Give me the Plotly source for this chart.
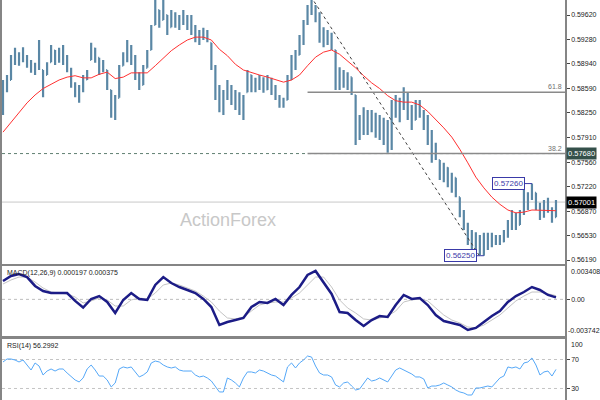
import plotly.graph_objects as go

# ---------------- data ----------------
highs = [0.5871,0.5878,0.5906,0.5916,0.5910,0.5917,0.5906,0.5899,0.5895,0.5927,
0.5885,0.5896,0.5920,0.5913,0.5916,0.5920,0.5906,0.5888,0.5868,0.5864,
0.5878,0.5885,0.5923,0.5916,0.5902,0.5899,0.5885,0.5857,0.5850,0.5892,
0.5910,0.5927,0.5920,0.5906,0.5882,0.5892,0.5913,0.5948,0.5983,0.5969,
0.5983,0.5962,0.5969,0.5966,0.5962,0.5969,0.5962,0.5962,0.5948,0.5941,
0.5944,0.5941,0.5923,0.5892,0.5864,0.5857,0.5871,0.5864,0.5857,0.5854,
0.5850,0.5885,0.5878,0.5874,0.5878,0.5875,0.5878,0.5874,0.5864,0.5850,
0.5846,0.5878,0.5906,0.5913,0.5934,0.5955,0.5976,0.5983,0.5976,0.5966,
0.5945,0.5941,0.5937,0.5913,0.5889,0.5885,0.5882,0.5875,0.5850,0.5822,
0.5833,0.5829,0.5829,0.5825,0.5822,0.5818,0.5815,0.5843,0.5850,0.5846,
0.5861,0.5853,0.5836,0.5843,0.5843,0.5829,0.5822,0.5801,0.5783,0.5759,
0.5755,0.5749,0.5741,0.5734,0.5707,0.5689,0.5671,0.5661,0.5658,0.5654,
0.5657,0.5657,0.5657,0.5654,0.5654,0.5661,0.5675,0.5689,0.5685,0.5689,
0.5717,0.5714,0.5726,0.5713,0.5699,0.5703,0.5706,0.5693,0.5703]

lows = [0.5822,0.5854,0.5871,0.5892,0.5891,0.5896,0.5888,0.5881,0.5878,0.5885,
0.5847,0.5878,0.5896,0.5892,0.5895,0.5892,0.5882,0.5860,0.5847,0.5839,
0.5854,0.5871,0.5899,0.5895,0.5878,0.5882,0.5857,0.5818,0.5815,0.5846,
0.5891,0.5896,0.5892,0.5871,0.5857,0.5864,0.5888,0.5913,0.5948,0.5944,
0.5955,0.5934,0.5945,0.5944,0.5941,0.5948,0.5941,0.5934,0.5924,0.5920,
0.5927,0.5924,0.5885,0.5843,0.5826,0.5822,0.5843,0.5836,0.5829,0.5822,
0.5815,0.5854,0.5854,0.5854,0.5857,0.5853,0.5857,0.5850,0.5843,0.5832,
0.5832,0.5843,0.5871,0.5885,0.5906,0.5920,0.5948,0.5962,0.5952,0.5923,
0.5917,0.5920,0.5913,0.5857,0.5857,0.5860,0.5857,0.5850,0.5780,0.5787,
0.5794,0.5794,0.5798,0.5790,0.5787,0.5780,0.5769,0.5773,0.5818,0.5812,
0.5829,0.5815,0.5801,0.5815,0.5818,0.5801,0.5780,0.5755,0.5759,0.5731,
0.5728,0.5721,0.5713,0.5707,0.5679,0.5661,0.5640,0.5633,0.5629,0.5626,
0.5625,0.5633,0.5637,0.5640,0.5640,0.5644,0.5650,0.5661,0.5661,0.5668,
0.5682,0.5689,0.5703,0.5689,0.5675,0.5678,0.5685,0.5671,0.5679]

closes = [0.5865,0.5860,0.5900,0.5898,0.5905,0.5900,0.5892,0.5886,0.5890,0.5888,
0.5878,0.5892,0.5912,0.5900,0.5910,0.5898,0.5886,0.5866,0.5855,0.5858,
0.5872,0.5880,0.5915,0.5902,0.5885,0.5890,0.5862,0.5825,0.5842,0.5885,
0.5905,0.5900,0.5898,0.5876,0.5864,0.5888,0.5908,0.5942,0.5970,0.5955,
0.5962,0.5945,0.5960,0.5950,0.5958,0.5952,0.5948,0.5940,0.5930,0.5935,
0.5932,0.5926,0.5890,0.5850,0.5835,0.5845,0.5860,0.5842,0.5850,0.5830,
0.5845,0.5878,0.5860,0.5868,0.5865,0.5858,0.5872,0.5856,0.5848,0.5836,
0.5842,0.5872,0.5900,0.5905,0.5928,0.5950,0.5970,0.5966,0.5958,0.5930,
0.5935,0.5928,0.5918,0.5865,0.5880,0.5868,0.5875,0.5855,0.5790,0.5812,
0.5800,0.5820,0.5805,0.5815,0.5795,0.5808,0.5780,0.5838,0.5825,0.5840,
0.5835,0.5822,0.5810,0.5835,0.5825,0.5808,0.5790,0.5765,0.5768,0.5740,
0.5748,0.5730,0.5735,0.5712,0.5685,0.5668,0.5648,0.5655,0.5638,0.5648,
0.5640,0.5652,0.5642,0.5650,0.5645,0.5658,0.5670,0.5680,0.5668,0.5685,
0.5710,0.5705,0.5715,0.5695,0.5680,0.5698,0.5690,0.5678,0.5700]

first_open = 0.5825

# moving average (sampled every 2nd bar)
ma_values = [0.5798,0.5812,0.5825,0.5839,0.5850,0.5859,0.5865,0.5871,0.5875,0.5877,
0.5874,0.5874,0.5879,0.5882,0.5873,0.5875,0.5881,0.5881,0.5881,0.5891,
0.5902,0.5912,0.5920,0.5927,0.5931,0.5931,0.5927,0.5914,0.5905,0.5893,
0.5885,0.5881,0.5878,0.5875,0.5872,0.5868,0.5871,0.5878,0.5891,0.5903,
0.5910,0.5913,0.5907,0.5898,0.5888,0.5877,0.5867,0.5859,0.5849,0.5842,
0.5840,0.5840,0.5836,0.5827,0.5816,0.5804,0.5791,0.5774,0.5755,0.5735,
0.5720,0.5707,0.5697,0.5689,0.5685,0.5686,0.5689,0.5689,0.5689,0.5688]

# MACD main and signal (sampled every 2nd bar)
macd_values = [0.00188,0.00239,0.00259,0.00228,0.00137,0.00085,0.00065,0.00065,0.00065,-0.00016,
-0.00083,0.00004,0.00034,-0.00027,-0.00139,-0.00006,0.00065,0.00004,-0.00006,0.00147,
0.00228,0.00167,0.00126,0.00096,0.00065,0.00004,-0.00078,-0.00262,-0.00231,-0.00211,
-0.00190,-0.00078,-0.00027,-0.00037,0.00004,-0.00058,0.00045,0.00126,0.00249,0.00290,
0.00167,0.00055,-0.00129,-0.00139,-0.00211,-0.00272,-0.00211,-0.00170,-0.00180,-0.00058,
0.00045,0.00004,0.00014,-0.00058,-0.00160,-0.00221,-0.00241,-0.00262,-0.00313,-0.00292,
-0.00231,-0.00170,-0.00119,-0.00027,0.00034,0.00075,0.00126,0.00096,0.00045,0.00020]

signal_values = [0.00157,0.00198,0.00228,0.00228,0.00177,0.00116,0.00075,0.00065,0.00055,0.00024,
-0.00037,-0.00016,0.00014,-0.00006,-0.00068,-0.00068,-0.00006,0.00014,0.00004,0.00065,
0.00147,0.00167,0.00147,0.00116,0.00085,0.00034,-0.00027,-0.00119,-0.00190,-0.00200,
-0.00180,-0.00119,-0.00058,-0.00037,-0.00027,-0.00027,0.00014,0.00065,0.00147,0.00228,
0.00228,0.00126,-0.00006,-0.00088,-0.00139,-0.00200,-0.00211,-0.00190,-0.00170,-0.00119,
-0.00027,-0.00006,0.00004,-0.00016,-0.00088,-0.00160,-0.00211,-0.00241,-0.00282,-0.00292,
-0.00262,-0.00211,-0.00160,-0.00088,-0.00016,0.00034,0.00075,0.00075,0.00055,0.00038]

rsi_values = [66.6,70.7,70.7,69.3,66.6,69.3,62.4,55.5,65.2,61.0,
48.6,54.1,56.9,54.1,56.9,56.9,51.4,47.2,41.7,39.0,
44.5,56.9,62.4,55.5,47.2,47.2,41.7,32.1,37.6,56.9,
59.7,58.3,59.7,52.8,45.9,48.6,52.8,65.2,67.9,66.6,
62.4,59.7,58.3,59.7,55.5,54.1,54.1,54.1,48.6,45.9,
47.2,44.5,40.3,32.1,25.2,25.2,44.5,41.7,37.6,32.1,
44.5,52.8,52.8,51.4,55.5,54.1,51.4,48.6,47.2,43.1,
39.0,59.7,65.2,58.3,65.2,69.3,74.8,73.4,61.0,51.4,
48.6,48.6,45.9,34.8,32.1,37.6,39.0,33.4,27.9,29.3,
36.2,44.5,40.3,41.7,44.5,41.7,39.0,47.2,55.5,58.3,
55.5,52.8,50.0,45.9,45.9,43.1,30.7,33.4,33.4,34.8,
37.6,34.8,32.1,27.9,25.2,23.8,21.0,21.0,30.7,30.7,
32.1,33.4,32.1,39.0,44.5,47.2,59.7,58.3,59.7,56.9,
65.2,66.6,72.1,62.4,48.6,52.8,54.1,47.2,56.3]

price_ticks = [0.59620, 0.59280, 0.58940, 0.58590, 0.58250, 0.57910,
               0.57560, 0.57220, 0.56870, 0.56530, 0.56190]
fib_labels = ["61.8", "38.2"]
fib_levels = [0.5854, 0.5768]
fib_start = 76
trend_idx = [76, 119]
trend_price = [0.5995, 0.5624]
last_price = 0.57001
swing_high_idx, swing_high = 132, 0.57260
swing_low_idx, swing_low = 120, 0.56250
macd_now, signal_now = 0.000197, 0.000375
rsi_now = 56.2992
macd_max, macd_min = 0.003408, -0.003742
rsi_levels = [70, 30]

price_range = [0.56134, 0.5983]
rsi_range = [14.1, 98.3]
x_range = [-0.25, 140.25]

# ---------------- build ----------------
idx = list(range(len(closes)))
opens = [first_open] + [min(max(c, l), h) for c, l, h in
                        zip(closes[:-1], lows[1:], highs[1:])]
ind_idx = idx[::2]

FONT = "Liberation Sans"
BAR = "#5a87a5"
BORDER = "#858585"

fig = go.Figure()
fig.add_trace(go.Ohlc(x=idx, open=opens, high=highs, low=lows, close=closes,
                      increasing_line_color=BAR, decreasing_line_color=BAR,
                      line_width=2.2, tickwidth=0.25, xaxis="x", yaxis="y",
                      hoverinfo="skip"))
fig.add_trace(go.Scatter(x=ind_idx, y=ma_values, mode="lines",
                         line=dict(color="#ff3030", width=1), xaxis="x", yaxis="y"))
fig.add_trace(go.Scatter(x=trend_idx, y=trend_price, mode="lines",
                         line=dict(color="#404040", width=1, dash="dot"),
                         xaxis="x", yaxis="y"))
fig.add_trace(go.Scatter(x=ind_idx, y=signal_values, mode="lines",
                         line=dict(color="#c4c4c4", width=1), xaxis="x2", yaxis="y2"))
fig.add_trace(go.Scatter(x=ind_idx, y=macd_values, mode="lines",
                         line=dict(color="#1c1c86", width=2.5), xaxis="x2", yaxis="y2"))
fig.add_trace(go.Scatter(x=idx, y=rsi_values, mode="lines",
                         line=dict(color="#55a8f8", width=1), xaxis="x3", yaxis="y3"))

shapes = []
shapes.append(dict(type="line", xref="paper", x0=0, x1=1, yref="y",
                   y0=fib_levels[1], y1=fib_levels[1], layer="below",
                   line=dict(color="#5f7f72", width=1, dash="dot")))
shapes.append(dict(type="line", xref="paper", x0=0, x1=1, yref="y",
                   y0=last_price, y1=last_price, layer="below",
                   line=dict(color="#c8c8c8", width=1)))
for lv in fib_levels:
    shapes.append(dict(type="line", xref="x", x0=fib_start, x1=x_range[1], yref="y",
                       y0=lv, y1=lv, line=dict(color="#8a8a8a", width=1.5)))
shapes.append(dict(type="line", xref="paper", x0=0, x1=1, yref="y2", y0=0, y1=0,
                   layer="below", line=dict(color="#bdbdbd", width=1, dash="dot")))
for lv in rsi_levels:
    shapes.append(dict(type="line", xref="paper", x0=0, x1=1, yref="y3", y0=lv, y1=lv,
                       layer="below", line=dict(color="#c4c4c4", width=1, dash="dot")))

ann = []
small = dict(family=FONT, size=7, color="#222222")
for lab, lv in zip(fib_labels, fib_levels):
    ann.append(dict(text=lab, xref="paper", x=1, xanchor="right", xshift=-1,
                    yref="y", y=lv, yanchor="bottom", showarrow=False,
                    font=dict(family=FONT, size=7, color="#707070")))
ann.append(dict(text=f"{fib_levels[1]:.5f}", xref="paper", x=1, xanchor="left", xshift=1,
                yref="y", y=fib_levels[1], yanchor="middle", showarrow=False,
                bgcolor="#34504a", borderpad=1,
                font=dict(family=FONT, size=7.5, color="white")))
ann.append(dict(text=f"{last_price:.5f}", xref="paper", x=1, xanchor="left", xshift=1,
                yref="y", y=last_price, yanchor="middle", showarrow=False,
                bgcolor="#000000", borderpad=1,
                font=dict(family=FONT, size=7.5, color="white")))
for xi, pv in [(swing_high_idx, swing_high), (swing_low_idx, swing_low)]:
    ann.append(dict(text=f"{pv:.5f}", x=xi, y=pv, xref="x", yref="y",
                    showarrow=True, arrowhead=0, arrowwidth=1, arrowcolor="#3a3aa8",
                    ax=-23, ay=0, bordercolor="#3a3aa8", borderwidth=1, borderpad=1,
                    bgcolor="white", font=dict(family=FONT, size=8, color="#3a3aa8")))
ann.append(dict(text="ActionForex", xref="paper", yref="paper", x=0.401, y=0.45,
                showarrow=False, font=dict(family=FONT, size=18, color="#c8c8c8")))
ann.append(dict(text=f"MACD(12,26,9) {macd_now:.6f} {signal_now:.6f}", xref="paper",
                x=0, xanchor="left", xshift=3, yref="y2 domain", y=1, yanchor="top",
                yshift=-1, showarrow=False, font=small))
ann.append(dict(text=f"RSI(14) {rsi_now:.4f}", xref="paper",
                x=0, xanchor="left", xshift=3, yref="y3 domain", y=1, yanchor="top",
                yshift=-1, showarrow=False, font=small))
ann.append(dict(text=f"{macd_max:.6f}", xref="paper", x=1, xanchor="left", xshift=4,
                yref="y2 domain", y=1, yanchor="top", showarrow=False, font=small))
ann.append(dict(text=f"{macd_min:.6f}", xref="paper", x=1, xanchor="left", xshift=1,
                yref="y2 domain", y=0, yanchor="bottom", showarrow=False, font=small))
ann.append(dict(text="100", xref="paper", x=1, xanchor="left", xshift=4,
                yref="y3 domain", y=1, yanchor="top", showarrow=False, font=small))

xcommon = dict(range=x_range, showticklabels=False, ticks="", showgrid=False,
               zeroline=False, showline=True, linecolor=BORDER, linewidth=1.5)
ycommon = dict(side="right", showgrid=False, zeroline=False, showline=True,
               mirror=True, linecolor=BORDER, linewidth=1.5, ticks="outside",
               ticklen=3, tickcolor="#444444", tickfont=small, automargin=False)

fig.update_layout(
    width=600, height=400,
    margin=dict(l=2, r=35, t=0, b=0, pad=0),
    paper_bgcolor="white", plot_bgcolor="white",
    showlegend=False,
    xaxis=dict(**xcommon, domain=[0, 1], anchor="y", rangeslider=dict(visible=False)),
    xaxis2=dict(**xcommon, domain=[0, 1], anchor="y2", mirror=True),
    xaxis3=dict(**xcommon, domain=[0, 1], anchor="y3", mirror=True),
    yaxis=dict(**ycommon, domain=[0.34, 1], range=price_range,
               tickvals=price_ticks, tickformat=".5f"),
    yaxis2=dict(**ycommon, domain=[0.16, 0.335], range=[macd_min, macd_max],
                tickvals=[0], ticktext=["0.00"]),
    yaxis3=dict(**ycommon, domain=[0, 0.1525], range=rsi_range,
                tickvals=rsi_levels),
    shapes=shapes, annotations=ann,
)

fig.write_html("out.html")
